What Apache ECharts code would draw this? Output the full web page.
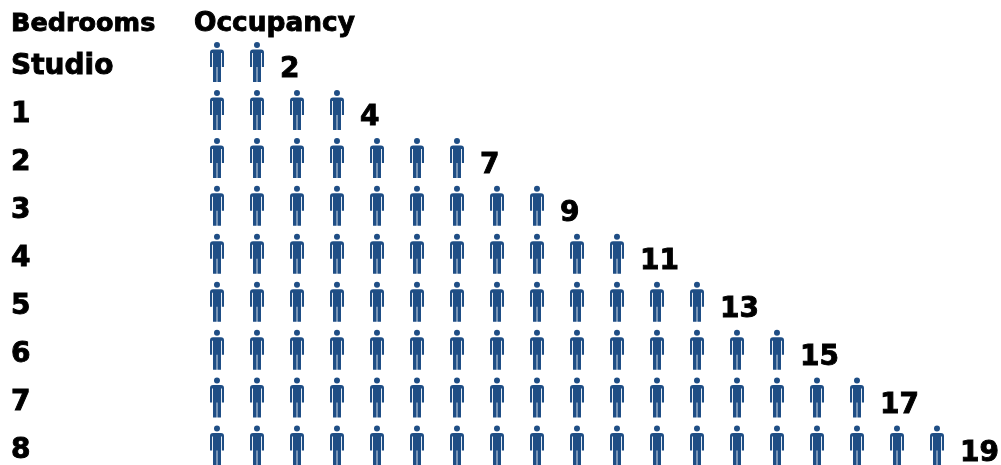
<!DOCTYPE html>
<html><head><meta charset="utf-8">
<style>html,body{margin:0;padding:0;background:#fff}#c{width:1001px;height:465px}</style>
<script src="https://cdn.jsdelivr.net/npm/echarts@6/dist/echarts.min.js"></script>
</head><body><div id="c"></div>
<script>
const bedrooms = ['Studio','1','2','3','4','5','6','7','8'];
const occupancy = [2,4,7,9,11,13,15,17,19];
const headers = ['Bedrooms','Occupancy'];
const person = 'path://M7 0A3 3 0 1 1 6.99 0ZM3 7.5L11 7.5Q14 7.5 14 10.5L14 25L11.9 25L11.9 11L11 11L11 40L7.4 40L7.4 25L6.6 25L6.6 40L3 40L3 11L2.1 11L2.1 25L0 25L0 10.5Q0 7.5 3 7.5Z';
const font = '"DejaVu Sans"';
const heavy = {fontFamily:font,fontWeight:'bold',color:'#000',textBorderColor:'#000',textBorderWidth:0.9};
const chart = echarts.init(document.getElementById('c'), null, {renderer:'canvas'});
chart.setOption({
  animation:false,
  backgroundColor:'#fff',
  title:[
    {text:headers[0],left:11,top:11,padding:0,textStyle:{...heavy,fontSize:25.5}},
    {text:headers[1],left:194,top:11,padding:0,textStyle:{...heavy,fontSize:26.4}}
  ],
  grid:{left:197,top:62,width:800,height:384,containLabel:false},
  xAxis:{type:'value',min:0,max:20,interval:1,show:false},
  yAxis:{type:'category',inverse:true,boundaryGap:false,data:bedrooms,
    axisLabel:{align:'left',verticalAlign:'top',lineHeight:10,margin:186,fontSize:28,...heavy},
    axisLine:{show:false},axisTick:{show:false},splitLine:{show:false}},
  series:[{
    type:'pictorialBar',
    data:occupancy,
    symbol:person,
    symbolSize:[14,40],
    symbolRepeat:true,
    symbolMargin:'13!',
    symbolPosition:'start',
    itemStyle:{color:'#1f4e85'},
    label:{show:true,position:'right',distance:3,offset:[0,8],fontSize:28,...heavy},
    clip:false
  }]
});
</script></body></html>
